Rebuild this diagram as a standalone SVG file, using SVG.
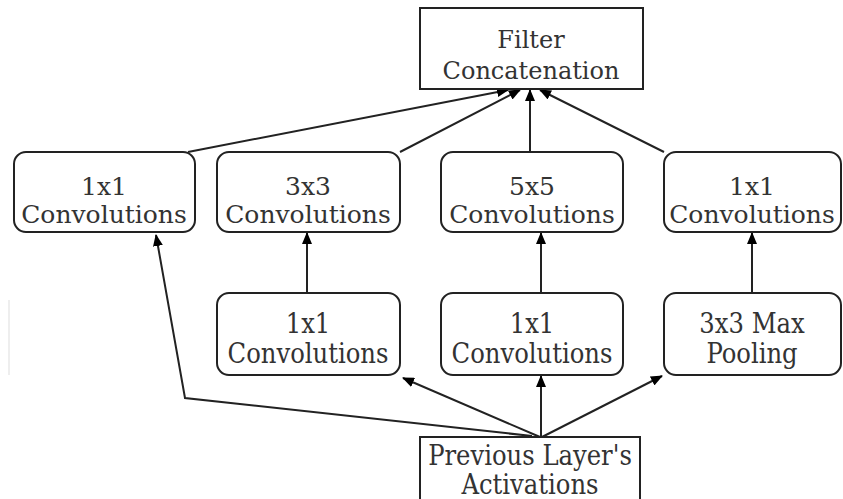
<svg xmlns="http://www.w3.org/2000/svg" width="843" height="499" viewBox="0 0 843 499">
<defs>
<marker id="ah" markerWidth="12" markerHeight="10" refX="11" refY="5" orient="auto" markerUnits="userSpaceOnUse">
<path d="M0,0 L12,5 L0,10 Z" fill="#000"/>
</marker>
<style>
.box{fill:#fff;stroke:#222;stroke-width:2}
.t{font-family:"DejaVu Serif",serif;font-size:25px;fill:#333;text-anchor:middle}
.tf{font-family:"DejaVu Serif",serif;font-size:24px;fill:#333;text-anchor:middle}
.tc{font-family:"DejaVu Serif Condensed","DejaVu Serif",serif;font-size:27px;fill:#333;text-anchor:middle;font-stretch:condensed}
.c{fill:none;stroke:#222;stroke-width:2;marker-end:url(#ah)}
</style>
</defs>
<rect width="843" height="499" fill="#fff"/>
<line x1="9" y1="300" x2="9" y2="375" stroke="#ddd" stroke-width="1"/>
<g id="connectors">
<line class="c" x1="188" y1="152" x2="508" y2="90"/>
<line class="c" x1="400" y1="152" x2="520" y2="90"/>
<line class="c" x1="530" y1="152" x2="530" y2="90"/>
<line class="c" x1="664" y1="152" x2="540" y2="90"/>
<line class="c" x1="307" y1="293" x2="307" y2="233"/>
<line class="c" x1="541" y1="293" x2="541" y2="233"/>
<line class="c" x1="752" y1="293" x2="752" y2="233"/>
<line class="c" x1="540" y1="437" x2="403" y2="378"/>
<line class="c" x1="541" y1="437" x2="541" y2="376"/>
<line class="c" x1="542" y1="437" x2="662" y2="376"/>
<path class="c" d="M532,436 L185,398 L156,235"/>
</g>
<g id="filter-concat">
<rect class="box" x="420" y="8" width="223" height="81"/>
<text class="tf" x="531" y="48">Filter</text>
<text class="tf" x="531" y="79">Concatenation</text>
</g>
<g id="conv1x1-a">
<rect class="box" x="14" y="152" width="181" height="80" rx="12"/>
<text class="t" x="104" y="195">1x1</text>
<text class="t" x="104" y="223">Convolutions</text>
</g>
<g id="conv3x3">
<rect class="box" x="217" y="152" width="183" height="80" rx="12"/>
<text class="t" x="308" y="195">3x3</text>
<text class="t" x="308" y="223">Convolutions</text>
</g>
<g id="conv5x5">
<rect class="box" x="441" y="152" width="182" height="80" rx="12"/>
<text class="t" x="532" y="195">5x5</text>
<text class="t" x="532" y="223">Convolutions</text>
</g>
<g id="conv1x1-d">
<rect class="box" x="664" y="152" width="177" height="80" rx="12"/>
<text class="t" x="752" y="195">1x1</text>
<text class="t" x="752" y="223">Convolutions</text>
</g>
<g id="conv1x1-b">
<rect class="box" x="217" y="293" width="183" height="82" rx="12"/>
<text class="tc" x="308" y="333">1x1</text>
<text class="tc" x="308" y="363">Convolutions</text>
</g>
<g id="conv1x1-c">
<rect class="box" x="441" y="293" width="182" height="82" rx="12"/>
<text class="tc" x="532" y="333">1x1</text>
<text class="tc" x="532" y="363">Convolutions</text>
</g>
<g id="maxpool">
<rect class="box" x="664" y="293" width="177" height="82" rx="12"/>
<text class="tc" x="752" y="333">3x3 Max</text>
<text class="tc" x="752" y="363">Pooling</text>
</g>
<g id="prev-layer">
<rect class="box" x="420" y="437" width="220" height="70"/>
<text class="tc" x="530" y="465">Previous Layer's</text>
<text class="tc" x="530" y="494">Activations</text>
</g>
</svg>
